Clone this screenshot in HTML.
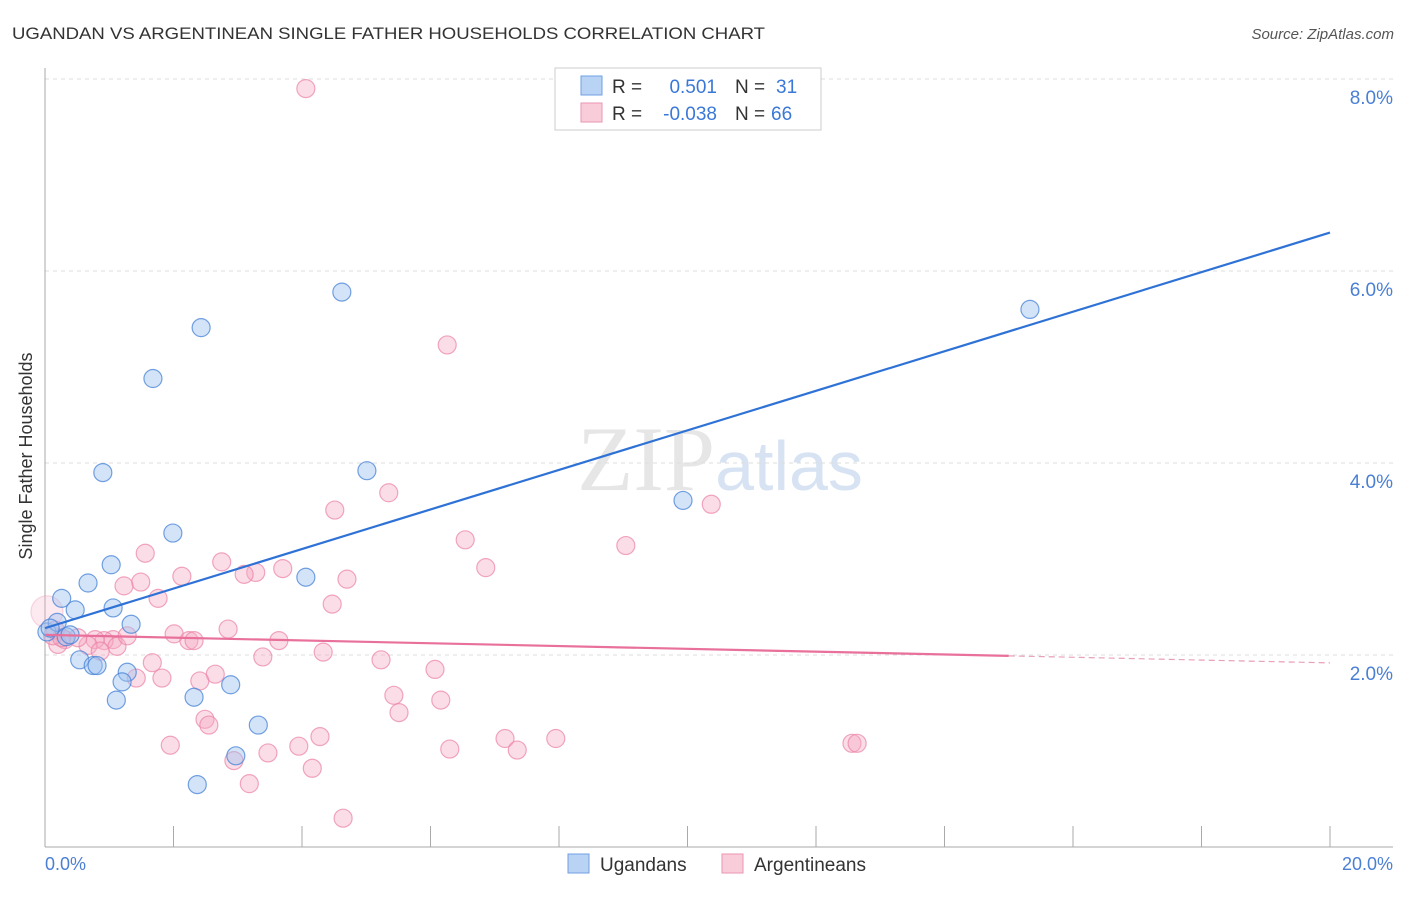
<!DOCTYPE html>
<html><head><meta charset="utf-8"><style>
body{margin:0;background:#fff;font-family:"Liberation Sans",sans-serif}
</style></head><body>
<svg width="1406" height="892" xmlns="http://www.w3.org/2000/svg" font-family="Liberation Sans, sans-serif">
<text x="12" y="39" font-size="17" fill="#333" textLength="753" lengthAdjust="spacingAndGlyphs">UGANDAN VS ARGENTINEAN SINGLE FATHER HOUSEHOLDS CORRELATION CHART</text>
<text x="1394" y="39" font-size="15" fill="#555" text-anchor="end" font-style="italic">Source: ZipAtlas.com</text>
<text x="720" y="490" font-size="92" fill="#e6e6e6" text-anchor="middle" font-family="Liberation Serif, serif">ZIP<tspan fill="#d7e3f3" font-family="Liberation Sans, sans-serif" font-size="70">atlas</tspan></text>
<g id="grid"></g><g id="axes"></g><g id="pts"></g><g id="lines"></g>
<text x="32" y="456" font-size="18" fill="#333" transform="rotate(-90 32 456)" text-anchor="middle">Single Father Households</text>
<text x="45" y="870" font-size="18" fill="#4a7fd4">0.0%</text>
<text x="1393" y="870" font-size="18" fill="#4a7fd4" text-anchor="end">20.0%</text>
<g>
<rect x="555" y="68" width="266" height="62" fill="#fff" stroke="#ccc"/>
<rect x="581" y="76" width="21" height="19" fill="#b9d3f5" stroke="#6f9fe0"/>
<rect x="581" y="103" width="21" height="19" fill="#f9ccd9" stroke="#eb96b0"/>
<text x="612" y="93" font-size="19" fill="#333">R =</text><text x="717" y="93" font-size="19" fill="#3a78d8" text-anchor="end">0.501</text>
<text x="735" y="93" font-size="19" fill="#333">N =</text><text x="776" y="93" font-size="19" fill="#3a78d8">31</text>
<text x="612" y="120" font-size="19" fill="#333">R =</text><text x="717" y="120" font-size="19" fill="#3a78d8" text-anchor="end">-0.038</text>
<text x="735" y="120" font-size="19" fill="#333">N =</text><text x="771" y="120" font-size="19" fill="#3a78d8">66</text>
</g>
<g>
<rect x="568" y="854" width="21" height="19" fill="#b9d3f5" stroke="#6f9fe0"/>
<text x="600" y="871" font-size="19" fill="#333">Ugandans</text>
<rect x="722" y="854" width="21" height="19" fill="#f9ccd9" stroke="#eb96b0"/>
<text x="754" y="871" font-size="19" fill="#333">Argentineans</text>
</g>
</svg>
<script>
const yTicks=[2,4,6,8];
const yTickLabels=["2.0%","4.0%","6.0%","8.0%"];
const xTicks=[0,2,4,6,8,10,12,14,16,18,20];
const blueX=[0.03,0.19,0.26,0.47,0.67,0.54,0.75,0.81,1.03,1.06,0.90,1.28,1.20,1.11,1.34,1.68,1.99,2.43,2.32,2.37,2.89,2.97,3.32,4.06,4.62,5.01,9.93,15.33,0.08,0.33,0.39];
const blueY=[2.24,2.34,2.59,2.47,2.75,1.95,1.89,1.89,2.94,2.49,3.90,1.82,1.72,1.53,2.32,4.88,3.27,5.41,1.56,0.65,1.69,0.95,1.27,2.81,5.78,3.92,3.61,5.60,2.28,2.19,2.21];
const pinkX=[4.06,6.26,5.35,4.51,10.37,6.54,9.04,1.56,2.75,6.86,3.28,3.70,3.10,2.13,1.49,1.23,4.70,1.76,4.47,2.85,2.01,2.24,2.32,3.64,1.06,0.92,1.12,1.28,0.78,0.67,0.31,0.20,0.16,0.51,3.39,4.33,1.67,5.23,1.42,1.82,2.65,6.07,2.41,5.43,6.16,5.51,2.49,2.55,4.28,7.16,7.95,1.95,3.47,3.95,6.30,7.35,2.94,4.16,3.18,4.64,12.56,12.64,0.03,0.12,0.26,0.86];
const pinkY=[7.90,5.23,3.69,3.51,3.57,3.20,3.14,3.06,2.97,2.91,2.86,2.90,2.84,2.82,2.76,2.72,2.79,2.59,2.53,2.27,2.22,2.15,2.15,2.15,2.16,2.15,2.09,2.20,2.16,2.10,2.16,2.11,2.26,2.18,1.98,2.03,1.92,1.95,1.76,1.76,1.80,1.85,1.73,1.58,1.53,1.40,1.33,1.27,1.15,1.13,1.13,1.06,0.98,1.05,1.02,1.01,0.90,0.82,0.66,0.30,1.08,1.08,2.45,2.20,2.18,2.04];
const blueTrend=[2.28,0.206];  // intercept, slope
const pinkTrend=[2.21,-0.0146];
const NS="http://www.w3.org/2000/svg";
const X=v=>45+v*64.25, Y=v=>847-v*96;
function mk(tag,parent,attrs){const e=document.createElementNS(NS,tag);for(const k in attrs)e.setAttribute(k,attrs[k]);document.getElementById(parent).appendChild(e);return e;}
yTicks.forEach((t,i)=>{
 const g=mk('line','grid',{x1:45,x2:1393,y1:Y(t),y2:Y(t),stroke:'#ddd','stroke-dasharray':'4 4'});
 
 
 const tx=mk('text','grid',{x:1393,y:Y(t)+25,'font-size':19,fill:'#4a7fd4','text-anchor':'end'});
 tx.textContent=yTickLabels[i];
 
 
});
const tg=mk('line','grid',{x1:45,x2:1393,y1:79,y2:79,stroke:'#ddd','stroke-dasharray':'4 4'});


const ya=mk('line','axes',{x1:45,x2:45,y1:68,y2:847,stroke:'#aaa'});


const xa=mk('line','axes',{x1:45,x2:1393,y1:847,y2:847,stroke:'#aaa'});


xTicks.forEach(t=>{const l=mk('line','axes',{x1:X(t),x2:X(t),y1:826,y2:847,stroke:'#aaa'});
 
 });
pinkX.forEach((x,i)=>{const c=mk('circle','pts',{cx:X(x),cy:Y(pinkY[i]),r:(i==62?16:9),fill:(i==62?'rgba(246,170,195,0.25)':'rgba(246,170,195,0.4)'),stroke:(i==62?'rgba(235,130,165,0.3)':'rgba(235,130,165,0.7)'),'stroke-width':1.2});
 
 });
blueX.forEach((x,i)=>{const c=mk('circle','pts',{cx:X(x),cy:Y(blueY[i]),r:9,fill:'rgba(160,195,240,0.45)',stroke:'rgba(70,130,215,0.75)','stroke-width':1.2});
 
 });
const bl=mk('line','lines',{x1:X(0),y1:Y(blueTrend[0]),x2:X(20),y2:Y(blueTrend[0]+20*blueTrend[1]),stroke:'#2f72d6','stroke-width':2.2});


const pl=mk('line','lines',{x1:X(0),y1:Y(pinkTrend[0]),x2:X(15),y2:Y(pinkTrend[0]+15*pinkTrend[1]),stroke:'#e8709a','stroke-width':2.2});


const pd=mk('line','lines',{x1:X(15),y1:Y(pinkTrend[0]+15*pinkTrend[1]),x2:X(20),y2:Y(pinkTrend[0]+20*pinkTrend[1]),stroke:'#e8a0b8','stroke-width':1.2,'stroke-dasharray':'6 4'});


</script>
</body></html>
